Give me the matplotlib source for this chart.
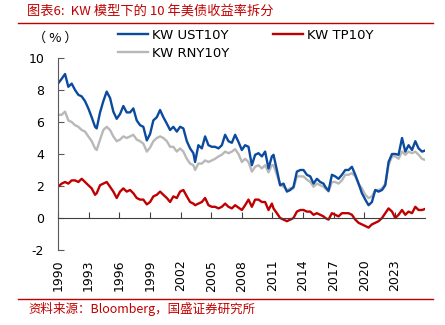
import matplotlib
matplotlib.use('Agg')
import matplotlib.pyplot as plt
from matplotlib.lines import Line2D

CJK = ['Noto Sans CJK SC', 'DejaVu Sans']

years = [
    1990.0, 1990.36, 1990.69, 1991.01, 1991.34, 1991.67, 1991.99, 1992.32, 1992.65, 1992.97,
    1993.30, 1993.63, 1993.79, 1994.12, 1994.44, 1994.77, 1995.10, 1995.42, 1995.75, 1996.08,
    1996.40, 1996.73, 1997.06, 1997.38, 1997.71, 1998.04, 1998.36,
    1998.70, 1999.02, 1999.34, 1999.68, 2000.0, 2000.32, 2000.66, 2000.98, 2001.30, 2001.64,
    2001.96, 2002.28, 2002.62, 2002.94, 2003.26, 2003.43, 2003.75, 2004.09, 2004.41, 2004.74,
    2005.07, 2005.39, 2005.72, 2006.05, 2006.37, 2006.70, 2007.03,
    2007.35, 2007.68, 2008.01, 2008.33, 2008.66, 2008.99, 2009.31, 2009.64, 2009.97, 2010.29,
    2010.62, 2010.95, 2011.11, 2011.44, 2011.76, 2012.09, 2012.42, 2012.75, 2013.07, 2013.40,
    2013.73, 2014.05, 2014.38, 2014.71, 2015.03, 2015.36, 2015.69, 2016.01,
    2016.18, 2016.50, 2016.83, 2017.16, 2017.48, 2017.81, 2018.14, 2018.46, 2018.79, 2019.12,
    2019.44, 2019.77, 2020.10, 2020.42, 2020.75, 2021.08, 2021.40, 2021.74, 2022.06, 2022.38,
    2022.72, 2023.04, 2023.36, 2023.70, 2024.02, 2024.34, 2024.68, 2025.0, 2025.32, 2025.66,
    2025.88,
]

ust10y = [
    8.4, 8.7, 9.0, 8.2, 8.4, 8.0, 7.7, 7.6, 7.3, 6.85,
    6.3, 5.7, 5.6, 6.6, 7.3, 7.9, 7.5, 6.65, 6.2, 6.5,
    7.0, 6.6, 6.6, 6.85, 6.1, 5.8, 5.7,
    4.85, 5.25, 6.1, 6.3, 6.75, 6.3, 5.9, 5.5, 5.7, 5.4,
    5.7, 5.6, 4.8, 4.35, 4.05, 3.5, 4.55, 4.35, 5.1, 4.55,
    4.45, 4.45, 4.35, 4.55, 5.2, 4.8, 4.7,
    5.2, 4.75, 4.25, 4.55, 4.45, 3.3, 3.95, 4.05, 3.85, 4.15,
    3.1, 3.85, 3.95, 3.0, 2.05, 2.15, 1.65, 1.75, 1.95, 2.9,
    3.0, 3.0, 2.7, 2.6, 2.15, 2.45, 2.25, 2.15,
    1.95, 1.7, 2.7, 2.6, 2.45, 2.7, 3.0, 3.0, 3.2, 2.7,
    2.15, 1.55, 1.15, 0.8, 1.0, 1.75, 1.65, 1.75, 2.05, 3.5,
    4.0, 4.0, 3.95, 5.0, 4.15, 4.55, 4.25, 4.8, 4.35, 4.15,
    4.2,
]

rny10y = [
    6.45, 6.45, 6.65, 6.1, 6.0, 5.8, 5.7, 5.5, 5.4, 5.1,
    4.8, 4.35, 4.25, 4.9, 5.5, 5.7, 5.5, 5.1, 4.8, 4.9,
    5.1, 5.0, 5.1, 5.2, 4.9, 4.8, 4.65,
    4.15, 4.4, 4.8, 5.0, 5.1, 5.0, 4.8, 4.45, 4.45, 4.15,
    4.35, 4.15, 3.7, 3.4, 3.3, 3.0, 3.4, 3.4, 3.6, 3.5,
    3.6, 3.7, 3.85, 3.95, 4.15, 4.05, 4.15,
    4.3, 4.0, 3.5, 3.7, 3.5, 2.9, 3.2, 3.3, 3.1, 3.3,
    2.85, 3.3, 3.3, 2.7, 2.05, 1.95, 1.75, 1.85, 1.85, 2.6,
    2.6, 2.6, 2.4, 2.25, 1.95, 2.15, 2.05, 1.95,
    1.85, 1.65, 2.25, 2.25, 2.15, 2.35, 2.7, 2.7, 2.8, 2.6,
    2.15, 1.85, 1.45, 1.25, 1.35, 1.75, 1.75, 1.85, 2.15, 3.3,
    3.85, 3.85, 3.7, 4.15, 3.95, 4.15, 4.05, 4.15, 3.95, 3.7,
    3.65,
]

tp10y = [
    1.95, 2.15, 2.25, 2.15, 2.35, 2.35, 2.25, 2.45, 2.25, 2.05,
    1.85, 1.45, 1.55, 2.05, 2.15, 2.25, 1.95, 1.65, 1.25, 1.65,
    1.85, 1.65, 1.75, 1.55, 1.25, 1.15, 1.15,
    0.85, 1.0, 1.35, 1.45, 1.65, 1.45, 1.25, 1.0, 1.35, 1.25,
    1.65, 1.75, 1.35, 1.0, 0.9, 0.8, 0.9, 1.0, 1.25, 0.8,
    0.7, 0.7, 0.6, 0.7, 0.9, 0.7, 0.6,
    0.8, 0.65, 0.5, 0.8, 1.15, 0.7, 1.15, 1.15, 1.0, 1.0,
    0.5, 0.9, 0.6, 0.3, 0.0, -0.1, -0.2, -0.1, 0.0, 0.4,
    0.5, 0.5, 0.4, 0.4, 0.2, 0.3, 0.2, 0.1,
    0.0, -0.1, 0.3, 0.2, 0.1, 0.3, 0.3, 0.3, 0.2, -0.1,
    -0.3, -0.4, -0.5, -0.6, -0.4, -0.3, -0.2, 0.0, 0.3, 0.6,
    0.4, 0.0, 0.2, 0.5, 0.2, 0.4, 0.3, 0.7, 0.5, 0.5,
    0.55,
]

series_names = ['KW UST10Y', 'KW TP10Y', 'KW RNY10Y']
tick_years = list(range(1990, 2024, 3))
tick_labels = [str(y) for y in tick_years]
y_ticks = [-2, 0, 2, 4, 6, 8, 10]

BLUE = '#0B4A9E'
RED = '#C00000'
GRAY = '#B8B8B8'

W, H = 445, 325
fig = plt.figure(figsize=(W / 100, H / 100), dpi=100)
ax = fig.add_axes([58 / W, 75 / H, (425 - 58) / W, (250 - 58) / H])

l_rny, = ax.plot(years, rny10y, color=GRAY, lw=1.7, label=series_names[2])
l_tp, = ax.plot(years, tp10y, color=RED, lw=1.7, label=series_names[1])
l_ust, = ax.plot(years, ust10y, color=BLUE, lw=1.7, label=series_names[0])

ax.set_xlim(1990, 2025.95)
ax.set_ylim(-2, 10)
for s in ['top', 'right']:
    ax.spines[s].set_visible(False)
ax.spines['left'].set_color('#595959')
ax.spines['bottom'].set_position(('data', 0))
ax.spines['bottom'].set_color('#404040')

ax.set_yticks(y_ticks)
ax.set_yticklabels([str(v) for v in y_ticks])
ax.tick_params(axis='y', direction='in', length=4, pad=10, labelsize=9,
               color='#595959', labelcolor='#000000')
ax.set_xticks(tick_years)
ax.tick_params(axis='x', direction='in', length=4, labelbottom=False, color='#404040')

sec = ax.secondary_xaxis('bottom')
sec.set_xticks(tick_years)
sec.set_xticklabels(tick_labels, rotation=90)
sec.tick_params(length=0, pad=7, labelsize=9)
sec.spines['bottom'].set_visible(False)

fig.legend(handles=[l_ust, l_rny, l_tp], ncol=2, loc='upper left',
           bbox_to_anchor=(118 / W, 1 - 29 / H), frameon=False, fontsize=9.5,
           handlelength=2.3, handletextpad=0.3, columnspacing=3.3,
           labelspacing=0.35, borderpad=0, borderaxespad=0)

fig.text(33 / W, 1 - 38 / H, '（ % ）', fontsize=9.5, va='center', ha='left', family=CJK)

fig.text(27 / W, 1 - 12 / H, '图表6:  KW 模型下的 10 年美债收益率拆分', color=RED,
         fontsize=9.5, va='center', ha='left', family=CJK, style='italic')
fig.text(28 / W, 1 - 309 / H, '资料来源：Bloomberg，国盛证券研究所', color=RED,
         fontsize=9, va='center', ha='left', family=CJK, style='italic')

fig.add_artist(Line2D([18 / W, 433 / W], [1 - 23 / H, 1 - 23 / H], color=RED, lw=1))
fig.add_artist(Line2D([18 / W, 433 / W], [1 - 299 / H, 1 - 299 / H], color=RED, lw=1))

fig.savefig('out.png', dpi=100)
